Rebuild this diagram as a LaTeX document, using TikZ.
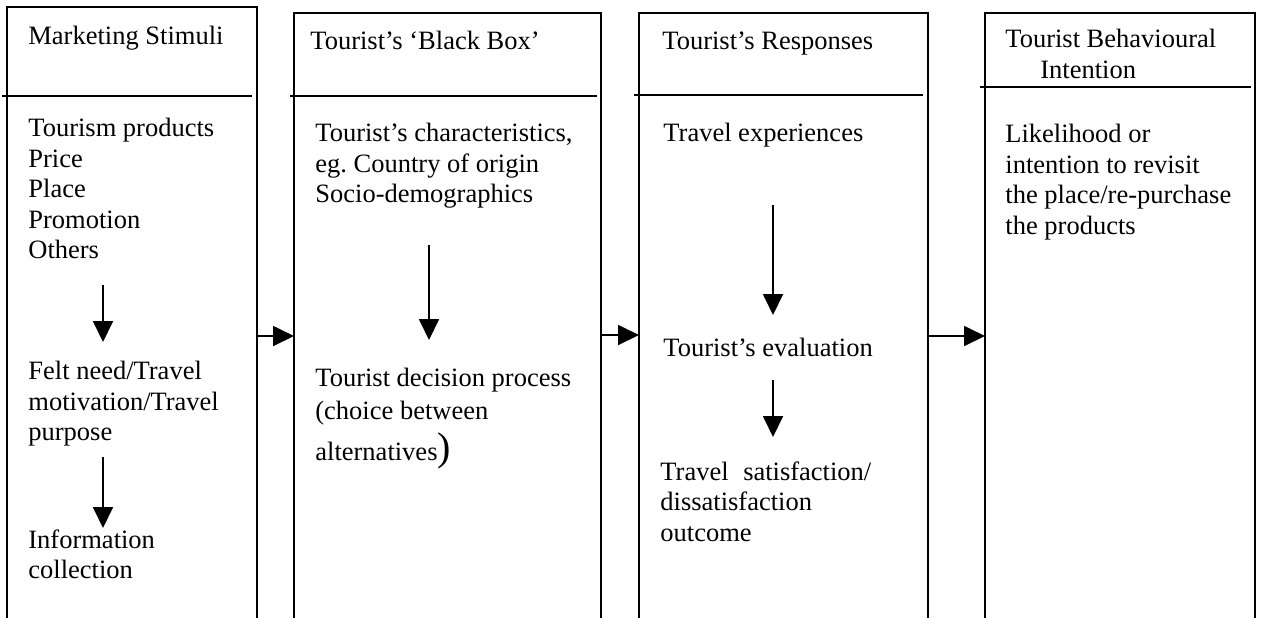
\documentclass[tikz,border=0pt]{standalone}
\usepackage{fontspec}
\setmainfont{Liberation Serif}
\usetikzlibrary{arrows.meta}
\frenchspacing

\begin{document}
\begin{tikzpicture}[
  x=0.5pt, y=-0.5pt,
  >={Triangle[length=10.5pt,width=10pt]},
  cadre/.style={line width=1pt},
  sep/.style={line width=0.9pt},
  txt/.style={anchor=north west,inner sep=0pt,align=left,
    font=\fontsize{13.25}{15.25}\selectfont},
  fl/.style={->,line width=0.9pt},
]
  \useasboundingbox (0,0) rectangle (1261,618);

  % Cadres (ouverts en bas)
  \draw[cadre] (7,618) -- (7,7) -- (258,7);
  \draw[cadre] (257,7) -- (257,618);
  \draw[cadre] (294,618) -- (294,13) -- (601,13) -- (601,618);
  \draw[cadre] (639,618) -- (639,13) -- (928,13) -- (928,618);
  \draw[cadre] (985,618) -- (985,13) -- (1255,13) -- (1255,618);

  % Separations sous les titres
  \draw[sep] (2,96) -- (252,96);
  \draw[sep] (290,96) -- (597,96);
  \draw[sep] (634,95) -- (923,95);
  \draw[sep] (980,87) -- (1251,87);

  % Titres
  \node[txt] (t1) at (28,26) {Marketing Stimuli};
  \node[txt] (t2) at (310,31) {Tourist’s ‘Black Box’};
  \node[txt] (t3) at (662,31) {Tourist’s Responses};
  \node[txt] (t4) at (1005,29) {Tourist Behavioural\\\hspace*{17.5pt}Intention};

  % Colonne 1
  \node[txt] (mix)  at (28,118) {Tourism products\\Price\\Place\\Promotion\\Others};
  \node[txt] (need) at (28,361) {Felt need/Travel\\motivation/Travel\\purpose};
  \node[txt] (info) at (28,529) {Information\\collection};

  % Colonne 2
  \node[txt] (carac) at (315,123) {Tourist’s characteristics,\\eg. Country of origin\\Socio-demographics};
  \node[txt] (decis) at (315,368) {Tourist decision process\\[1pt](choice between\\[3pt]alternatives{\fontsize{20}{20}\selectfont)}};

  % Colonne 3
  \node[txt] (exper) at (663,123) {Travel experiences};
  \node[txt] (evalu) at (663,338) {Tourist’s evaluation};
  \node[txt] (satis) at (660,461) {Travel\hspace{4pt} satisfaction/\\dissatisfaction\\outcome};

  % Colonne 4
  \node[txt] (inten) at (1005,124) {Likelihood or\\intention to revisit\\the place/re-purchase\\the products};

  % Points d'attache des fleches
  \coordinate (b1r) at (257,336);
  \coordinate (b2l) at (294,336);
  \coordinate (b2r) at (601,335);
  \coordinate (b3l) at (639,335);
  \coordinate (b3r) at (928,336);
  \coordinate (b4l) at (985,336);
  \coordinate (a1)  at (103,285);  \coordinate (a1f) at (103,342);
  \coordinate (a2)  at (103,457);  \coordinate (a2f) at (103,528);
  \coordinate (a3)  at (429,245);  \coordinate (a3f) at (429,340);
  \coordinate (a4)  at (773,205);  \coordinate (a4f) at (773,315);
  \coordinate (a5)  at (773,380);  \coordinate (a5f) at (773,437);

  % Fleches entre cadres
  \draw[fl] (b1r) -- (b2l);
  \draw[fl] (b2r) -- (b3l);
  \draw[fl] (b3r) -- (b4l);

  % Fleches dans les cadres
  \draw[fl] (a1) -- (a1f);
  \draw[fl] (a2) -- (a2f);
  \draw[fl] (a3) -- (a3f);
  \draw[fl] (a4) -- (a4f);
  \draw[fl] (a5) -- (a5f);
\end{tikzpicture}
\end{document}
